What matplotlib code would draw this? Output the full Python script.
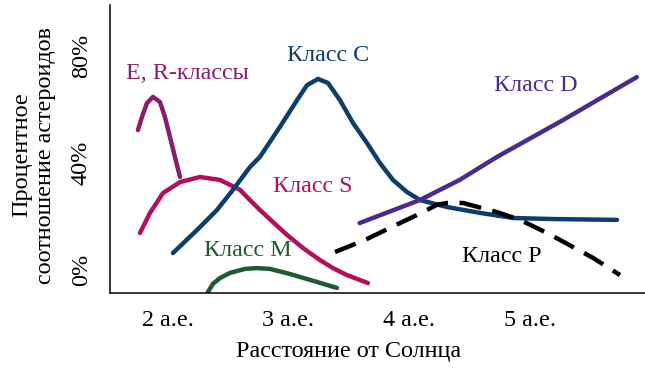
import matplotlib.pyplot as plt

plt.rcParams['font.family'] = ['Liberation Serif', 'DejaVu Serif']

# Distance from the Sun (AU) and share of asteroids (%)
er_x = [1.751, 1.784, 1.826, 1.876, 1.934, 1.975, 2.017, 2.058, 2.100]
er_y = [52.2, 57.1, 62.3, 64.6, 62.7, 57.1, 49.6, 42.2, 34.7]

s_x = [1.768, 1.851, 1.959, 2.100, 2.266, 2.432, 2.598, 2.680, 2.763, 2.871,
       2.988, 3.120, 3.261, 3.369, 3.485, 3.660]
s_y = [13.8, 21.3, 28.7, 32.8, 34.7, 33.6, 29.9, 26.1, 22.4, 17.9,
       13.1, 8.2, 3.7, 0.7, -1.9, -4.9]

c_x = [2.041, 2.241, 2.407, 2.539, 2.680, 2.763, 2.929, 3.071, 3.154, 3.245,
       3.328, 3.427, 3.535, 3.651, 3.759, 3.867, 3.983, 4.091, 4.315, 4.589,
       4.863, 5.195, 5.726]
c_y = [6.3, 14.9, 22.4, 29.9, 38.4, 42.2, 53.4, 63.4, 69.0, 71.3,
       69.8, 63.4, 54.9, 47.4, 39.9, 33.6, 29.1, 26.1, 23.5, 21.3,
       19.4, 19.0, 18.7]

d_x = [3.59, 4.09, 4.42, 4.73, 5.28, 5.89]
d_y = [17.5, 26.1, 33.6, 42.2, 56.0, 72.0]

p_x = [3.386, 3.635, 3.925, 4.066, 4.232, 4.315, 4.448, 4.730, 4.921, 5.145,
       5.253, 5.527, 5.751]
p_y = [6.7, 11.2, 17.5, 20.5, 24.3, 25.0, 25.0, 21.6, 18.7, 13.8,
       11.2, 4.5, -1.9]

m_x = [2.332, 2.373, 2.432, 2.515, 2.639, 2.739, 2.846, 3.012, 3.178, 3.402]
m_y = [-8.2, -5.2, -3.0, -1.1, 0.4, 0.7, 0.4, -1.5, -3.7, -6.7]

x_ticks = [2, 3, 4, 5]
x_labels = ['2 а.е.', '3 а.е.', '4 а.е.', '5 а.е.']
y_ticks = [0, 40, 80]
y_labels = ['0%', '40%', '80%']

col_er = '#8a1c6c'
col_s = '#b3105c'
col_c = '#0d3d6b'
col_d = '#4a2a8c'
col_m = '#1f5a2f'
col_p = '#000000'

fig = plt.figure(figsize=(6.45, 3.68), dpi=100)
ax = fig.add_axes([0.1705, 0.2038, 0.8295, 0.7826])

lw = 3.2
style = dict(lw=lw, solid_capstyle='round', solid_joinstyle='round')
ax.plot(er_x, er_y, color=col_er, **style)
ax.plot(s_x, s_y, color=col_s, **style)
ax.plot(c_x, c_y, color=col_c, **style)
ax.plot(d_x, d_y, color=col_d, **style)
ax.plot(m_x, m_y, color=col_m, **style)
ax.plot(p_x, p_y, color=col_p, lw=lw, linestyle=(0, (5, 2.6)),
        dash_capstyle='butt', dash_joinstyle='round')

fs = 17.4
ax.text(2.16, 73.5, 'E, R-классы', color=col_er, fontsize=fs, ha='center', va='center')
ax.text(3.33, 80.2, 'Класс C', color=col_c, fontsize=fs, ha='center', va='center')
ax.text(3.20, 31.0, 'Класс S', color=col_s, fontsize=fs, ha='center', va='center')
ax.text(2.66, 7.1, 'Класс M', color=col_m, fontsize=fs, ha='center', va='center')
ax.text(5.05, 69.0, 'Класс D', color=col_d, fontsize=fs, ha='center', va='center')
ax.text(4.77, 4.9, 'Класс P', color=col_p, fontsize=fs, ha='center', va='center')

ax.set_xlim(1.519, 5.958)
ax.set_ylim(-8.6, 98.9)
ax.set_xticks(x_ticks)
ax.set_xticklabels(x_labels, fontsize=fs)
ax.set_yticks(y_ticks)
ax.set_yticklabels(y_labels, fontsize=fs, rotation=90, va='center')
ax.tick_params(axis='x', length=0, pad=12)
ax.tick_params(axis='y', length=0, pad=13)

fig.text(349 / 645, 1 - 351 / 368, 'Расстояние от Солнца', fontsize=fs,
         ha='center', va='center')
fig.text(33.5 / 645, 1 - 155 / 368, 'Процентное\nсоотношение астероидов',
         fontsize=fs, rotation=90, ha='center', va='center', multialignment='center')

ax.spines['top'].set_visible(False)
ax.spines['right'].set_visible(False)
ax.spines['left'].set_linewidth(1.1)
ax.spines['bottom'].set_linewidth(1.1)

fig.savefig('out.png', dpi=100)
